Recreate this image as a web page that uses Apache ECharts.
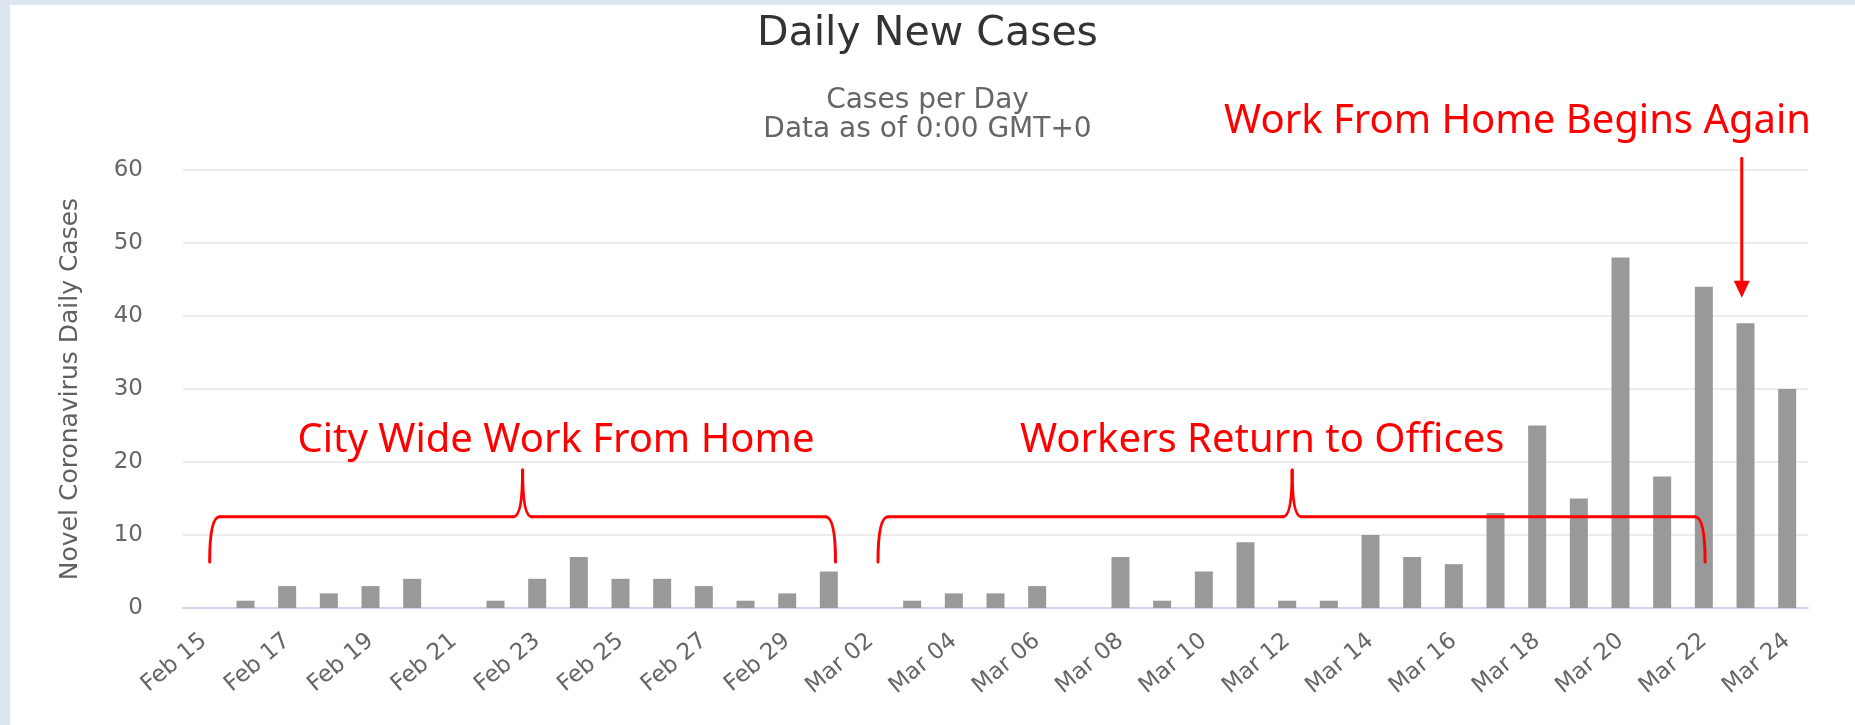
<!DOCTYPE html>
<html>
<head>
<meta charset="utf-8">
<title>Daily New Cases</title>
<script src="https://cdn.jsdelivr.net/npm/echarts@6/dist/echarts.min.js"></script>
<style>
  html, body { margin: 0; padding: 0; }
  body { width: 1855px; height: 725px; overflow: hidden; background: #fff; }
  .edge-left { position: absolute; left: 0; top: 0; width: 10px; height: 725px; background: #dce6f1; }
  .edge-top { position: absolute; left: 0; top: 0; width: 1855px; height: 5px; background: #dce6f1; }
  #chart { position: absolute; left: 0; top: 0; width: 1855px; height: 725px; }
</style>
</head>
<body>
<div class="edge-left"></div>
<div class="edge-top"></div>
<div id="chart"></div>
<script>
// one bar per day, Feb 15 - Mar 24 2020
var days = [
  'Feb 15', 'Feb 16', 'Feb 17', 'Feb 18', 'Feb 19', 'Feb 20', 'Feb 21', 'Feb 22',
  'Feb 23', 'Feb 24', 'Feb 25', 'Feb 26', 'Feb 27', 'Feb 28', 'Feb 29',
  'Mar 01', 'Mar 02', 'Mar 03', 'Mar 04', 'Mar 05', 'Mar 06', 'Mar 07', 'Mar 08',
  'Mar 09', 'Mar 10', 'Mar 11', 'Mar 12', 'Mar 13', 'Mar 14', 'Mar 15', 'Mar 16',
  'Mar 17', 'Mar 18', 'Mar 19', 'Mar 20', 'Mar 21', 'Mar 22', 'Mar 23', 'Mar 24'
];
var dailyCases = [
  0, 1, 3, 2, 3, 4, 0, 1,
  4, 7, 4, 4, 3, 1, 2,
  5, 0, 1, 2, 2, 3, 0, 7,
  1, 5, 9, 1, 1, 10, 7, 6,
  13, 25, 15, 48, 18, 44, 39, 30
];
var yTicks = [0, 10, 20, 30, 40, 50, 60];

var chart = echarts.init(document.getElementById('chart'));

var option = {
  animation: false,
  title: [
    {
      text: 'Daily New Cases',
      left: 'center',
      top: 9,
      textStyle: { fontFamily: 'DejaVu Sans', fontSize: 41, fontWeight: 'normal', color: '#333333' }
    },
    {
      text: 'Cases per Day\nData as of 0:00 GMT+0',
      left: 'center',
      top: 81,
      textStyle: { fontFamily: 'DejaVu Sans', fontSize: 28, lineHeight: 29, fontWeight: 'normal', color: '#666666', align: 'center' }
    }
  ],
  grid: { left: 183, right: 47, top: 170, bottom: 117 },
  xAxis: {
    type: 'category',
    data: days,
    axisLine: { lineStyle: { color: '#ccd6eb', width: 2 } },
    axisTick: { show: false },
    axisLabel: {
      interval: 1,
      rotate: 40,
      margin: 30,
      fontFamily: 'DejaVu Sans',
      fontSize: 23,
      color: '#666666'
    }
  },
  yAxis: {
    type: 'value',
    min: yTicks[0],
    max: yTicks[yTicks.length - 1],
    interval: yTicks[1] - yTicks[0],
    name: 'Novel Coronavirus Daily Cases',
    nameLocation: 'middle',
    nameRotate: 90,
    nameGap: 100,
    nameTextStyle: { fontFamily: 'DejaVu Sans', fontSize: 25, color: '#606060' },
    axisLine: { show: false },
    axisTick: { show: false },
    axisLabel: { margin: 40, fontFamily: 'DejaVu Sans', fontSize: 23, color: '#666666' },
    splitLine: { lineStyle: { color: '#e6e6e6', width: 1.5 } }
  },
  series: [
    {
      name: 'Daily Cases',
      type: 'bar',
      data: dailyCases,
      barWidth: 18,
      itemStyle: { color: '#999999' }
    }
  ]
};

chart.setOption(option);

// pixel point for a (category position, value) pair
function at(pos, value) {
  var a = chart.convertToPixel({ xAxisIndex: 0 }, 0);
  var b = chart.convertToPixel({ xAxisIndex: 0 }, 1);
  return [a + pos * (b - a), chart.convertToPixel({ yAxisIndex: 0 }, value)];
}

var redLine = { stroke: '#ff0000', lineWidth: 3, lineCap: 'round' };

function curve(x1, y1, cx, cy, x2, y2) {
  return { type: 'bezierCurve', z: 50, shape: { x1: x1, y1: y1, cpx1: cx, cpy1: cy, x2: x2, y2: y2 }, style: redLine };
}
function seg(x1, y1, x2, y2) {
  return { type: 'line', z: 50, shape: { x1: x1, y1: y1, x2: x2, y2: y2 }, style: redLine };
}

// curly brace lying on its back, point upward
function brace(from, to, tip) {
  var l = at(from, 6.3), r = at(to, 6.3), t = at(tip, 18.9);
  var h = at(tip, 12.5)[1];
  var xl = l[0], xr = r[0], yb = l[1], xt = t[0], yt = t[1];
  return [
    curve(xl, yb, xl, h, xl + 10, h),
    seg(xl + 10, h, xt - 9, h),
    curve(xt - 9, h, xt, h, xt, yt),
    curve(xt, yt, xt, h, xt + 9, h),
    seg(xt + 9, h, xr - 10, h),
    curve(xr - 10, h, xr, h, xr, yb)
  ];
}

function note(text, pos, value) {
  var p = at(pos, value);
  return {
    type: 'text',
    z: 50,
    x: p[0],
    y: p[1],
    style: {
      text: text,
      fontFamily: 'Noto Sans',
      fontSize: 40,
      fill: '#ff0000',
      align: 'center',
      verticalAlign: 'middle'
    }
  };
}

var arrowTop = at(36.91, 61.6), arrowTip = at(36.91, 42.5);

var marks = []
  .concat(brace(0.14, 15.16, 7.65))
  .concat(brace(16.18, 36.03, 26.12))
  .concat([
    note('City Wide Work From Home', 8.45, 22.9),
    note('Workers Return to Offices', 25.4, 22.9),
    note('Work From Home Begins Again', 31.53, 66.6),
    seg(arrowTop[0], arrowTop[1], arrowTip[0], arrowTip[1] - 12),
    {
      type: 'polygon',
      z: 50,
      shape: {
        points: [
          [arrowTip[0] - 8, arrowTip[1] - 17],
          [arrowTip[0] + 8, arrowTip[1] - 17],
          [arrowTip[0], arrowTip[1]]
        ]
      },
      style: { fill: '#ff0000' }
    }
  ]);

chart.setOption({ graphic: marks });
</script>
</body>
</html>
